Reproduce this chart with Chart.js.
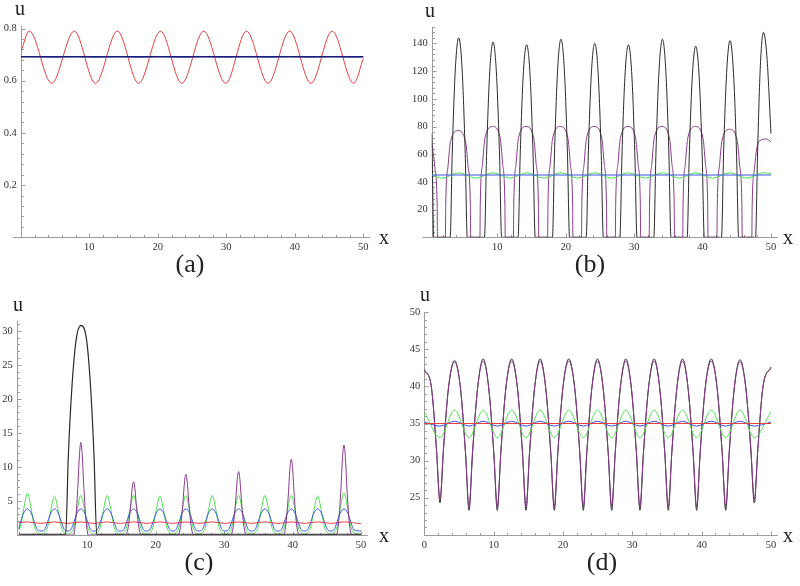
<!DOCTYPE html>
<html>
<head>
<meta charset="utf-8">
<script src="https://cdn.jsdelivr.net/npm/chart.js@4.4.1/dist/chart.umd.min.js"></script>
<style>
  body { margin: 0; background: #fff; }
  #page { position: relative; width: 800px; height: 586px; overflow: hidden;
          font-family: "Liberation Serif", "DejaVu Serif", serif; color: #222; }
  .panel { position: absolute; }
  .lbl { position: absolute; transform: translate(-50%, -50%); line-height: 1; white-space: nowrap; }
  .ax { font-size: 20px; }
  .cap { font-size: 26px; }
</style>
</head>
<body>
<div id="page">
  <canvas class="panel" id="chartA" width="400" height="290" style="left:0;top:0"></canvas>
  <canvas class="panel" id="chartB" width="400" height="290" style="left:400px;top:0"></canvas>
  <canvas class="panel" id="chartC" width="400" height="296" style="left:0;top:290px"></canvas>
  <canvas class="panel" id="chartD" width="400" height="296" style="left:400px;top:290px"></canvas>

  <div class="lbl ax" style="left:20px;top:8px">u</div>
  <div class="lbl ax" style="left:430px;top:10px">u</div>
  <div class="lbl ax" style="left:18px;top:304px">u</div>
  <div class="lbl ax" style="left:425px;top:294px">u</div>
  <div class="lbl ax" style="left:384px;top:237px">x</div>
  <div class="lbl ax" style="left:788px;top:237px">x</div>
  <div class="lbl ax" style="left:384px;top:535px">x</div>
  <div class="lbl ax" style="left:788px;top:535px">x</div>

  <div class="lbl cap" style="left:190px;top:264px">(a)</div>
  <div class="lbl cap" style="left:590px;top:264px">(b)</div>
  <div class="lbl cap" style="left:199px;top:562px">(c)</div>
  <div class="lbl cap" style="left:602px;top:562px">(d)</div>
</div>

<script>
// ---- panel (a) ----
const aXTicks = [10, 20, 30, 40, 50];
const aYTicks = [0.2, 0.4, 0.6, 0.8];
const aRedX = [0, 1.25, 4.5, 7.8, 10.9, 14.1, 17.2, 20.4, 23.5, 26.7, 29.9, 32.95, 36.1, 39.25, 42.35, 45.45, 48.6, 50];
const aRedY = [0.71, 0.79, 0.59, 0.79, 0.59, 0.79, 0.59, 0.79, 0.59, 0.79, 0.59, 0.79, 0.59, 0.79, 0.59, 0.79, 0.59, 0.685];
const aBlueY = [0.692, 0.692, 0.6885, 0.692, 0.6885, 0.692, 0.6885, 0.692, 0.6885, 0.692, 0.6885, 0.692, 0.6885, 0.692, 0.6885, 0.692, 0.6885, 0.691];
const aNavyX = [0, 50];
const aNavyY = [0.692, 0.692];

// ---- panel (b) ----
const bXTicks = [10, 20, 30, 40, 50];
const bYTicks = [20, 40, 60, 80, 100, 120, 140];
const bBlackX = [0.4, 0.55, 0.68,
  3.1, 3.4, 3.85, 4.35, 4.85, 5.3, 5.6,
  8.12, 8.42, 8.87, 9.37, 9.87, 10.32, 10.62,
  13.03, 13.33, 13.78, 14.28, 14.78, 15.23, 15.53,
  18.05, 18.35, 18.8, 19.3, 19.8, 20.25, 20.55,
  22.99, 23.29, 23.74, 24.24, 24.74, 25.19, 25.49,
  27.91, 28.21, 28.66, 29.16, 29.66, 30.11, 30.41,
  32.88, 33.18, 33.63, 34.13, 34.63, 35.08, 35.38,
  37.75, 38.05, 38.5, 39.0, 39.5, 39.95, 40.25,
  42.77, 43.07, 43.52, 44.02, 44.52, 44.97, 45.27,
  47.75, 48.05, 48.45, 48.9, 49.4, 50];
const bBlackY = [75, 35, 0,
  0, 60.5, 121, 144, 121, 60.5, 0,
  0, 59, 118, 141, 118, 59, 0,
  0, 58, 117, 139, 117, 58, 0,
  0, 60, 120, 143, 120, 60, 0,
  0, 59, 118, 140, 118, 59, 0,
  0, 58, 117, 139, 117, 58, 0,
  0, 60, 120, 143, 120, 60, 0,
  0, 58, 116, 138, 116, 58, 0,
  0, 60, 119, 142, 119, 60, 0,
  0, 62, 124, 148, 131, 75];
const bPurpleX = [0.4, 0.85, 1.2, 1.25,
  2.4, 2.45, 2.8, 3.15, 4.25, 5.35, 5.7, 6.05, 6.1,
  7.45, 7.5, 7.85, 8.2, 9.3, 10.4, 10.75, 11.1, 11.15,
  12.35, 12.4, 12.75, 13.1, 14.2, 15.3, 15.65, 16.0, 16.05,
  17.35, 17.4, 17.75, 18.1, 19.2, 20.3, 20.65, 21.0, 21.05,
  22.3, 22.35, 22.7, 23.05, 24.15, 25.25, 25.6, 25.95, 26.0,
  27.25, 27.3, 27.65, 28.0, 29.1, 30.2, 30.55, 30.9, 30.95,
  32.2, 32.25, 32.6, 32.95, 34.05, 35.15, 35.5, 35.85, 35.9,
  37.1, 37.15, 37.5, 37.85, 38.95, 40.05, 40.4, 40.75, 40.8,
  42.1, 42.15, 42.5, 42.85, 43.95, 45.05, 45.4, 45.75, 45.8,
  47.2, 47.25, 47.6, 48.0, 48.5, 49.3, 50];
const bPurpleY = [68, 51, 22, 0,
  0, 23, 52, 69, 77, 69, 52, 23, 0,
  0, 24, 54, 72, 80, 72, 54, 24, 0,
  0, 24, 54, 72, 80, 72, 54, 24, 0,
  0, 24, 54, 72, 80, 72, 54, 24, 0,
  0, 24, 54, 72, 80, 72, 54, 24, 0,
  0, 24, 54, 72, 80, 72, 54, 24, 0,
  0, 24, 54, 72, 80, 72, 54, 24, 0,
  0, 24, 54, 72, 80, 72, 54, 24, 0,
  0, 23, 53, 70, 78, 70, 53, 23, 0,
  0, 22, 50, 66, 70, 71, 69];
const bGreenX = [0.4, 1.9, 4.35, 6.85, 9.37, 11.8, 14.28, 16.8, 19.3, 21.75, 24.24, 26.7, 29.16, 31.65, 34.13, 36.55, 39.0, 41.5, 44.02, 46.45, 48.9, 50];
const bGreenY = [45, 42.7, 46.6, 42.7, 46.6, 42.7, 46.6, 42.7, 46.6, 42.7, 46.6, 42.7, 46.6, 42.7, 46.6, 42.7, 46.6, 42.7, 46.6, 42.7, 46.6, 46.0];
const bBlueX = [0.4, 50];
const bBlueY = [45, 45];

// ---- panel (c) ----
const cXTicks = [10, 20, 30, 40, 50];
const cYTicks = [5, 10, 15, 20, 25, 30];
const cX = [0, 0.25, 0.7, 1.25, 1.8, 2.25, 2.7, 3.22,
  3.75, 4.2, 4.65, 5.2, 5.75, 6.2, 6.65, 7.12,
  7.6, 8.05, 8.5, 9.05, 9.6, 10.05, 10.5, 10.97,
  11.45, 11.9, 12.35, 12.9, 13.45, 13.9, 14.35, 14.82,
  15.3, 15.75, 16.2, 16.75, 17.3, 17.75, 18.2, 18.67,
  19.15, 19.6, 20.05, 20.6, 21.15, 21.6, 22.05, 22.5,
  22.95, 23.4, 23.85, 24.4, 24.95, 25.4, 25.85, 26.32,
  26.8, 27.25, 27.7, 28.25, 28.8, 29.25, 29.7, 30.17,
  30.65, 31.1, 31.55, 32.1, 32.65, 33.1, 33.55, 34.02,
  34.5, 34.95, 35.4, 35.95, 36.5, 36.95, 37.4, 37.87,
  38.35, 38.8, 39.25, 39.8, 40.35, 40.8, 41.25, 41.72,
  42.2, 42.65, 43.1, 43.65, 44.2, 44.65, 45.1, 45.57,
  46.05, 46.5, 46.95, 47.5, 48.05, 48.5, 48.95, 50];
const cGreenY = [0.7, 1.2, 3.8, 6.1, 3.8, 1.2, 0.3, 0.12,
  0.3, 1.15, 3.55, 5.7, 3.55, 1.15, 0.3, 0.12,
  0.3, 1.15, 3.6, 5.8, 3.6, 1.15, 0.3, 0.12,
  0.3, 1.15, 3.6, 5.8, 3.6, 1.15, 0.3, 0.12,
  0.3, 1.15, 3.6, 5.8, 3.6, 1.15, 0.3, 0.12,
  0.3, 1.15, 3.55, 5.7, 3.55, 1.15, 0.3, 0.12,
  0.3, 1.15, 3.6, 5.8, 3.6, 1.15, 0.3, 0.12,
  0.3, 1.15, 3.6, 5.8, 3.6, 1.15, 0.3, 0.12,
  0.3, 1.15, 3.6, 5.8, 3.6, 1.15, 0.3, 0.12,
  0.3, 1.15, 3.6, 5.8, 3.6, 1.15, 0.3, 0.12,
  0.3, 1.15, 3.6, 5.8, 3.6, 1.15, 0.3, 0.12,
  0.3, 1.15, 3.55, 5.7, 3.55, 1.15, 0.3, 0.12,
  0.3, 1.25, 3.85, 6.2, 3.85, 1.25, 0.3, 0.12];
const cBlueY = [1.0, 1.9, 3.2, 3.8, 3.2, 1.9, 0.75, 0.55,
  0.75, 1.9, 3.2, 3.8, 3.2, 1.9, 0.75, 0.55,
  0.75, 1.9, 3.2, 3.8, 3.2, 1.9, 0.75, 0.55,
  0.75, 1.9, 3.2, 3.8, 3.2, 1.9, 0.75, 0.55,
  0.75, 1.9, 3.2, 3.8, 3.2, 1.9, 0.75, 0.55,
  0.75, 1.9, 3.2, 3.8, 3.2, 1.9, 0.75, 0.55,
  0.75, 1.9, 3.2, 3.8, 3.2, 1.9, 0.75, 0.55,
  0.75, 1.9, 3.2, 3.8, 3.2, 1.9, 0.75, 0.55,
  0.75, 1.9, 3.2, 3.8, 3.2, 1.9, 0.75, 0.55,
  0.75, 1.9, 3.2, 3.8, 3.2, 1.9, 0.75, 0.55,
  0.75, 1.9, 3.2, 3.8, 3.2, 1.9, 0.75, 0.55,
  0.75, 1.9, 3.2, 3.8, 3.2, 1.9, 0.75, 0.55,
  0.75, 1.9, 3.2, 3.8, 3.2, 1.9, 0.75, 0.55];
const cRedX = [0, 1.25, 3.22, 5.2, 7.12, 9.05, 10.97, 12.9, 14.82, 16.75, 18.67, 20.6, 22.5, 24.4, 26.32, 28.25, 30.17, 32.1, 34.02, 35.95, 37.87, 39.8, 41.72, 43.65, 45.57, 47.5, 50];
const cRedY = [1.8, 1.9, 1.68, 1.9, 1.68, 1.9, 1.68, 1.9, 1.68, 1.9, 1.68, 1.9, 1.68, 1.9, 1.68, 1.9, 1.68, 1.9, 1.68, 1.9, 1.68, 1.9, 1.68, 1.9, 1.68, 1.9, 1.62];
const cPurpleX = [0, 7.9, 8.25, 8.6, 8.85, 9.05, 9.25, 9.5, 9.85, 10.2,
  15.6, 15.95, 16.3, 16.55, 16.75, 16.95, 17.2, 17.55, 17.9,
  23.25, 23.6, 23.95, 24.2, 24.4, 24.6, 24.85, 25.2, 25.55,
  30.95, 31.3, 31.65, 31.9, 32.1, 32.3, 32.55, 32.9, 33.25,
  38.65, 39.0, 39.35, 39.6, 39.8, 40.0, 40.25, 40.6, 40.95,
  46.35, 46.7, 47.05, 47.3, 47.5, 47.7, 47.95, 48.3, 48.65, 50];
const cPurpleY = [0, 0, 1.6, 6.8, 11.8, 13.6, 11.8, 6.8, 1.6, 0,
  0, 0.95, 3.9, 6.8, 7.8, 6.8, 3.9, 0.95, 0,
  0, 1.05, 4.45, 7.75, 8.9, 7.75, 4.45, 1.05, 0,
  0, 1.1, 4.65, 8.1, 9.3, 8.1, 4.65, 1.1, 0,
  0, 1.35, 5.55, 9.65, 11.1, 9.65, 5.55, 1.35, 0,
  0, 1.6, 6.6, 11.5, 13.2, 11.5, 6.6, 1.6, 0, 0];
const cBlackX = [0, 6.84, 7.22, 7.72, 8.35, 9.08, 9.9, 10.5, 10.98, 11.37, 50];
const cBlackY = [0.05, 0.05, 11.5, 21.3, 28.6, 30.8, 28.6, 21.3, 11.5, 0.05, 0.05];

// ---- panel (d) ----
const dXTicks = [0, 10, 20, 30, 40, 50];
const dYTicks = [25, 30, 35, 40, 45, 50];
const dX = [0,
  1.02, 1.75, 2.26, 2.77, 3.5, 4.36,
  5.21, 5.94, 6.45, 6.96, 7.69, 8.49,
  9.29, 10.02, 10.53, 11.04, 11.77, 12.6,
  13.43, 14.16, 14.67, 15.18, 15.91, 16.71,
  17.51, 18.24, 18.75, 19.26, 19.99, 20.84,
  21.69, 22.42, 22.93, 23.44, 24.17, 24.98,
  25.79, 26.52, 27.03, 27.54, 28.27, 29.07,
  29.86, 30.59, 31.1, 31.61, 32.34, 33.15,
  33.95, 34.68, 35.19, 35.7, 36.43, 37.24,
  38.04, 38.77, 39.28, 39.79, 40.52, 41.38,
  42.23, 42.96, 43.47, 43.98, 44.71, 45.54,
  46.36, 47.09, 47.6, 48.11, 48.84, 50];
const dBlackY = [42.3,
  39.9, 31.6, 24.3, 31.6, 39.9, 43.5,
  39.8, 31.1, 23.3, 31.1, 39.8, 43.7,
  39.8, 31.1, 23.3, 31.1, 39.8, 43.7,
  39.8, 31.1, 23.3, 31.1, 39.8, 43.7,
  39.8, 31.1, 23.3, 31.1, 39.8, 43.7,
  39.8, 31.1, 23.3, 31.1, 39.8, 43.7,
  39.8, 31.1, 23.3, 31.1, 39.8, 43.7,
  39.8, 31.1, 23.3, 31.1, 39.8, 43.7,
  39.8, 31.1, 23.3, 31.1, 39.8, 43.7,
  39.8, 31.1, 23.3, 31.1, 39.8, 43.7,
  39.8, 31.1, 23.3, 31.1, 39.8, 43.6,
  39.9, 31.6, 24.3, 31.6, 39.9, 42.6];
const dPurpleY = [42.2,
  39.9, 31.6, 24.8, 31.6, 39.9, 43.3,
  39.8, 31.1, 23.8, 31.1, 39.8, 43.4,
  39.8, 31.1, 23.8, 31.1, 39.8, 43.4,
  39.8, 31.1, 23.8, 31.1, 39.8, 43.4,
  39.8, 31.1, 23.8, 31.1, 39.8, 43.4,
  39.8, 31.1, 23.8, 31.1, 39.8, 43.4,
  39.8, 31.1, 23.8, 31.1, 39.8, 43.4,
  39.8, 31.1, 23.8, 31.1, 39.8, 43.4,
  39.8, 31.1, 23.8, 31.1, 39.8, 43.4,
  39.8, 31.1, 23.8, 31.1, 39.8, 43.4,
  39.8, 31.1, 23.8, 31.1, 39.8, 43.3,
  39.9, 31.6, 24.8, 31.6, 39.9, 42.5];
const dWaveX = [0, 2.26, 4.36, 6.45, 8.49, 10.53, 12.6, 14.67, 16.71, 18.75, 20.84, 22.93, 24.98, 27.03, 29.07, 31.1, 33.15, 35.19, 37.24, 39.28, 41.38, 43.47, 45.54, 47.6, 50];
const dGreenY = [36.6, 33.1, 36.8, 33.1, 36.8, 33.1, 36.8, 33.1, 36.8, 33.1, 36.8, 33.1, 36.8, 33.1, 36.8, 33.1, 36.8, 33.1, 36.8, 33.1, 36.8, 33.1, 36.8, 33.1, 36.6];
const dBlueY = [35.2, 34.65, 35.3, 34.65, 35.3, 34.65, 35.3, 34.65, 35.3, 34.65, 35.3, 34.65, 35.3, 34.65, 35.3, 34.65, 35.3, 34.65, 35.3, 34.65, 35.3, 34.65, 35.3, 34.65, 35.2];
const dRedX = [0, 50];
const dRedY = [35.0, 35.0];

const RED = '#e8403f', BLUE = '#3a55e6', LBLUE = '#8098e8', NAVY = '#1c1c74',
      GREEN = '#4fe04f', PURPLE = '#8a3a8e', BLACK = '#2a2a2a';
const tickFont = { family: "'Liberation Serif', 'Times New Roman', serif", size: 10.5 };

// Mathematica-like axes: gray lines, ticks pointing into the plot
const mathAxes = {
  id: 'mathAxes',
  beforeDatasetsDraw(chart, args, o) {
    const { ctx, chartArea: a, scales: { x, y } } = chart;
    const by = Math.round(a.bottom) + 0.5, lx = Math.round(a.left) + 0.5;
    const major = (v, m) => Math.abs(v / m - Math.round(v / m)) < 1e-6;
    ctx.save();
    ctx.strokeStyle = '#9c9c9c';
    ctx.lineWidth = 1;
    ctx.beginPath();
    ctx.moveTo(a.left - o.ext, by); ctx.lineTo(a.right, by);
    ctx.moveTo(lx, a.bottom); ctx.lineTo(lx, a.top);
    for (let i = Math.ceil(x.min / o.xMinor - 1e-9); i * o.xMinor <= x.max + 1e-9; i++) {
      const v = i * o.xMinor, px = Math.round(x.getPixelForValue(v)) + 0.5;
      ctx.moveTo(px, by); ctx.lineTo(px, by - (major(v, o.xMajor) ? 4 : 2.5));
    }
    for (let i = Math.ceil(y.min / o.yMinor - 1e-9); i * o.yMinor <= y.max + 1e-9; i++) {
      const v = i * o.yMinor, py = Math.round(y.getPixelForValue(v)) + 0.5;
      ctx.moveTo(lx, py); ctx.lineTo(lx + (major(v, o.yMajor) ? 4 : 2.5), py);
    }
    ctx.stroke();
    ctx.restore();
  }
};

function line(xs, ys, color, width) {
  return {
    data: xs.map((x, i) => ({ x: x, y: ys[i] })),
    borderColor: color,
    borderWidth: width || 1,
    pointRadius: 0,
    fill: false,
    cubicInterpolationMode: 'monotone'
  };
}

function axis(min, max, ticks, fit) {
  return {
    type: 'linear', min: min, max: max,
    afterBuildTicks: s => { s.ticks = ticks.map(v => ({ value: v })); },
    afterFit: fit,
    grid: { display: false, drawTicks: false },
    border: { display: false },
    ticks: { font: tickFont, color: '#333', padding: 4, autoSkip: false, maxRotation: 0, callback: v => v }
  };
}

// box = plot area inside the canvas (left, top, right, bottom)
function panel(id, box, xr, xTicks, yr, yTicks, axesOpts, datasets) {
  const cv = document.getElementById(id);
  return new Chart(cv, {
    type: 'line',
    data: { datasets: datasets },
    options: {
      responsive: false,
      animation: false,
      events: [],
      layout: { padding: { left: 0, top: box[1], right: cv.width - box[2], bottom: cv.height - box[3] - 20 } },
      scales: {
        x: axis(xr[0], xr[1], xTicks, s => { s.height = 20; }),
        y: axis(yr[0], yr[1], yTicks, s => { s.width = box[0]; })
      },
      plugins: { legend: { display: false }, tooltip: { enabled: false }, mathAxes: axesOpts }
    },
    plugins: [mathAxes]
  });
}

panel('chartA', [20.8, 25.9, 370.15, 237.3], [0, 51], aXTicks, [0, 0.81], aYTicks,
  { ext: 8, xMinor: 2, xMajor: 10, yMinor: 0.04, yMajor: 0.2 },
  [line(aNavyX, aNavyY, NAVY, 1.6), line(aRedX, aBlueY, LBLUE, 1), line(aRedX, aRedY, RED, 1)]);

panel('chartB', [31.7, 26.8, 377.8, 237.3], [0.4, 51], bXTicks, [0, 152], bYTicks,
  { ext: 9, xMinor: 2, xMajor: 10, yMinor: 4, yMajor: 20 },
  [line(bBlueX, bBlueY, BLUE, 1.2), line(bGreenX, bGreenY, GREEN, 1),
   line(bBlackX, bBlackY, BLACK, 1), line(bPurpleX, bPurpleY, PURPLE, 1)]);

panel('chartC', [16.85, 30.6, 367.9, 244.8], [-0.3, 51], cXTicks, [0, 31.5], cYTicks,
  { ext: 0, xMinor: 2, xMajor: 10, yMinor: 1, yMajor: 5 },
  [line(cBlackX, cBlackY, BLACK, 1.2), line(cPurpleX, cPurpleY, PURPLE, 1),
   line(cRedX, cRedY, RED, 1), line(cX, cBlueY, BLUE, 1), line(cX, cGreenY, GREEN, 1)]);

panel('chartD', [24.3, 22.2, 377.9, 244.8], [0, 51], dXTicks, [20, 50], dYTicks,
  { ext: 0, xMinor: 2, xMajor: 10, yMinor: 1, yMajor: 5 },
  [line(dRedX, dRedY, RED, 1.2), line(dWaveX, dBlueY, BLUE, 1), line(dWaveX, dGreenY, GREEN, 1),
   line(dX, dPurpleY, PURPLE, 1), line(dX, dBlackY, BLACK, 1)]);
</script>
</body>
</html>
